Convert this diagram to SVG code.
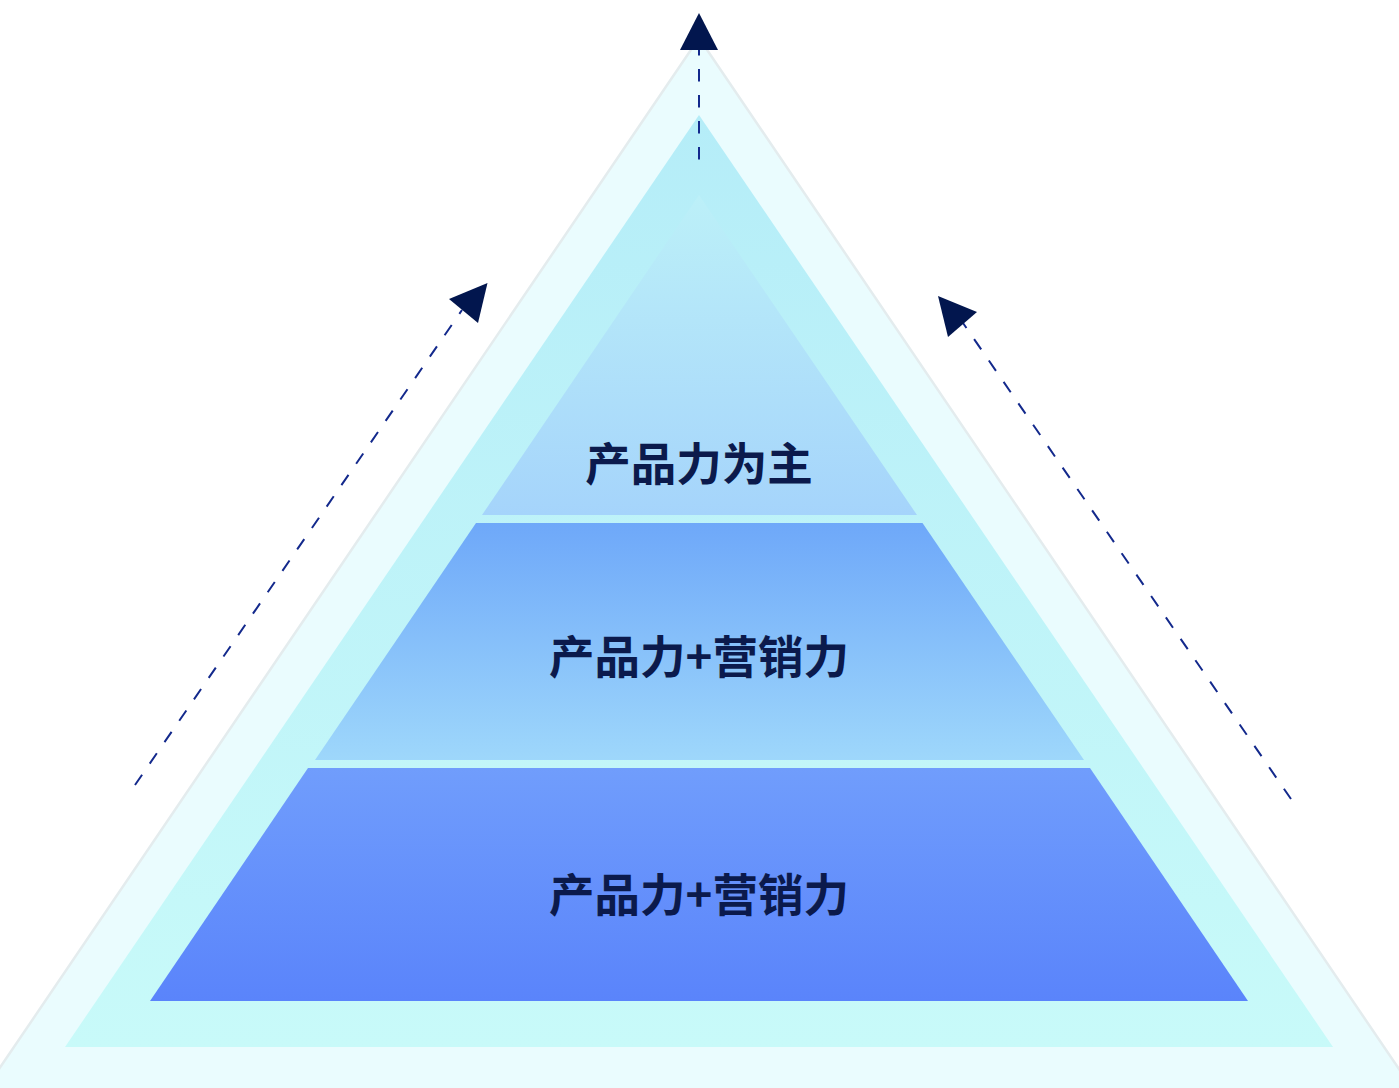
<svg xmlns="http://www.w3.org/2000/svg" width="1399" height="1088" viewBox="0 0 1399 1088">
<style>
.lbl{font-family:"Noto Sans CJK SC","Noto Sans",sans-serif;font-weight:700;font-size:45.5px;fill:#0B1A4C;text-anchor:middle}
.dash{fill:none;stroke:#13298C;stroke-width:2;stroke-dasharray:12.5 13.5}
.head{fill:#02164E}
</style>
<defs>
<linearGradient id="gMid" x1="0" y1="115" x2="0" y2="1047" gradientUnits="userSpaceOnUse">
<stop offset="0" stop-color="#B5EDF8"/>
<stop offset="1" stop-color="#C8FAF9"/>
</linearGradient>
<linearGradient id="g1" x1="0" y1="195" x2="0" y2="515" gradientUnits="userSpaceOnUse">
<stop offset="0" stop-color="#BCF0F8"/>
<stop offset="1" stop-color="#A5D4FB"/>
</linearGradient>
<linearGradient id="g2" x1="0" y1="523" x2="0" y2="760" gradientUnits="userSpaceOnUse">
<stop offset="0" stop-color="#6EA8F9"/>
<stop offset="1" stop-color="#9ED7FB"/>
</linearGradient>
<linearGradient id="g3" x1="0" y1="768" x2="0" y2="1001" gradientUnits="userSpaceOnUse">
<stop offset="0" stop-color="#709DFC"/>
<stop offset="1" stop-color="#5A84FB"/>
</linearGradient>
</defs>
<g id="outer">
<polygon points="699,38 -22,1100 1420,1100" fill="#EAFCFE" stroke="#E4ECEE" stroke-width="2.5"/>
</g>
<g id="middle">
<polygon points="699,115 65,1047 1333,1047" fill="url(#gMid)"/>
</g>
<g id="layer-top">
<polygon points="699,195 917,515 482,515" fill="url(#g1)"/>
<text class="lbl" x="699" y="481">产品力为主</text>
</g>
<g id="layer-middle">
<polygon points="476,523 922.5,523 1084,760 315,760" fill="url(#g2)"/>
<text class="lbl" x="699" y="674">产品力+营销力</text>
</g>
<g id="layer-bottom">
<polygon points="308,768 1090,768 1248,1001 150,1001" fill="url(#g3)"/>
<text class="lbl" x="699" y="912">产品力+营销力</text>
</g>
<g id="connectors">
<line class="dash" x1="699" y1="159.5" x2="699" y2="50"/>
<polygon class="head" points="699,13 718,50 680,50"/>
<line class="dash" x1="135" y1="785" x2="462" y2="310"/>
<polygon class="head" points="487.5,283 449,299 478,323"/>
<line class="dash" x1="1291" y1="799" x2="963" y2="323"/>
<polygon class="head" points="938,296 977,312 948,337"/>
</g>
</svg>
